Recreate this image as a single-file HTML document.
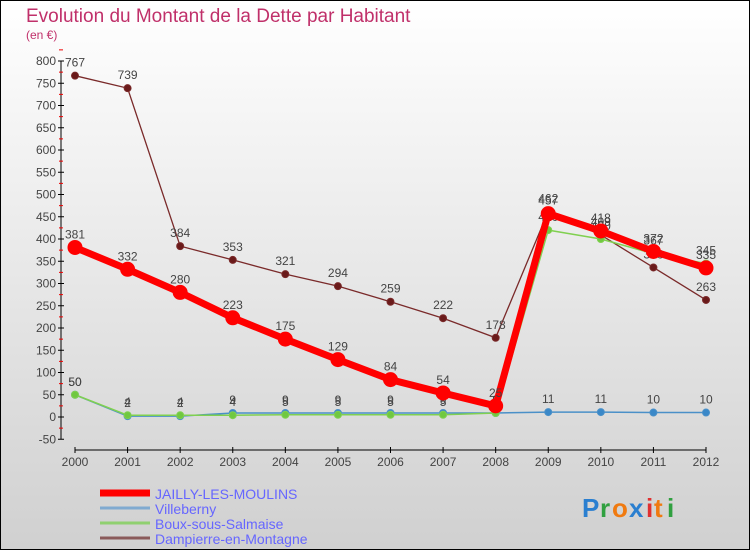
<!DOCTYPE html>
<html><head><meta charset="utf-8"><style>
body{margin:0}
svg text{font-family:"Liberation Sans",sans-serif}
</style></head><body>
<svg width="750" height="550" xmlns="http://www.w3.org/2000/svg" id="chart">
<defs><linearGradient id="bg" x1="0" y1="0" x2="0" y2="1"><stop offset="0" stop-color="#ffffff"/><stop offset="1" stop-color="#d0d0d0"/></linearGradient></defs>
<rect x="0.5" y="0.5" width="749" height="549" fill="url(#bg)" stroke="#000"/>
<text x="26" y="22" font-size="19" fill="#c0306a">Evolution du Montant de la Dette par Habitant</text>
<text x="26" y="39" font-size="12" fill="#c0306a">(en €)</text>
<g id="axes"></g><g id="series"></g><g id="legend"></g>
<g font-size="26" font-weight="bold">
<text x="582" y="517" fill="#2a7fd0">P</text><text x="600" y="517" fill="#30a040">r</text><text x="612" y="517" fill="#f07a10">o</text><text x="629" y="517" fill="#2a7fd0">x</text><text x="646" y="517" fill="#e03030">i</text><text x="654" y="517" fill="#f07a10">t</text><text x="667" y="517" fill="#30a040">i</text></g>
</svg>
<script>
const years=[2000,2001,2002,2003,2004,2005,2006,2007,2008,2009,2010,2011,2012];
const yTicks=[-50,0,50,100,150,200,250,300,350,400,450,500,550,600,650,700,750,800];
const jailly=[381,332,280,223,175,129,84,54,25,457,418,372,335];
const villeberny=[50,2,2,9,9,9,9,9,9,11,11,10,10];
const boux=[50,4,4,4,5,5,5,5,9,420,400,367,345];
const dampierre=[767,739,384,353,321,294,259,222,178,462,409,336,263];
const NS="http://www.w3.org/2000/svg";
const X=i=>75+i*(706-75)/12;
const Y=v=>417-v*0.445;
function mk(t,a,p){const e=document.createElementNS(NS,t);for(const k in a)e.setAttribute(k,a[k]);p.appendChild(e);return e;}
const ax=document.getElementById('axes');
let l=mk('line',{x1:61,y1:Y(800),x2:61,y2:Y(-50),stroke:'#000'},ax);


yTicks.forEach(v=>{
 mk('line',{x1:58,x2:64,y1:Y(v),y2:Y(v),stroke:'#000'},ax);
 mk('line',{x1:59,x2:63,y1:Y(v+25),y2:Y(v+25),stroke:'#e00'},ax);
 const t=mk('text',{x:56,y:Y(v)+4,'text-anchor':'end','font-size':12,fill:'#444'},ax);t.textContent=v;
 
 
});
l=mk('line',{x1:75,y1:450,x2:706,y2:450,stroke:'#000'},ax);


years.forEach((y,i)=>{
 mk('line',{x1:X(i),x2:X(i),y1:447,y2:453,stroke:'#000'},ax);
 const t=mk('text',{x:X(i),y:466,'text-anchor':'middle','font-size':12,fill:'#444'},ax);t.textContent=y;
 
 
});
const sg=document.getElementById('series');
function series(name,data,color,w,r,fill){
 const g=mk('g',{},sg);
 
 
 const p=mk('polyline',{points:data.map((v,i)=>X(i)+','+Y(v)).join(' '),fill:'none',stroke:color,'stroke-width':w},g);
 
 
 data.forEach((v,i)=>{
  const c=mk('circle',{cx:X(i),cy:Y(v),r:r,fill:fill,stroke:color,'stroke-width':1},g);
  
  
  const t=mk('text',{x:X(i),y:Y(v)-9,'text-anchor':'middle','font-size':12,fill:'#444'},g);t.textContent=v;
  
  
 });
}
series('dampierre',dampierre,'#7a2a2a',1.3,3.5,'#6a1a1a');
series('villeberny',villeberny,'#4a90c8',1.5,3.5,'#3a88c8');
series('boux',boux,'#80d050',1.5,3.5,'#70c840');
series('jailly',jailly,'#ff0000',7,7,'#ff0000');
const lg=document.getElementById('legend');
[['JAILLY-LES-MOULINS','#ff0000',7,'jailly'],['Villeberny','#80aad0',3,'villeberny'],['Boux-sous-Salmaise','#90d070',3,'boux'],['Dampierre-en-Montagne','#8a5a5a',3,'dampierre']].forEach((d,i)=>{
 const y=493+i*15;
 const g=mk('g',{},lg);
 
 
 mk('line',{x1:100,x2:150,y1:y,y2:y,stroke:d[1],'stroke-width':d[2]},g);
 const t=mk('text',{x:155,y:y+6,'font-size':14,fill:'#6666ff'},g);t.textContent=d[0];
});
</script>
</body></html>
